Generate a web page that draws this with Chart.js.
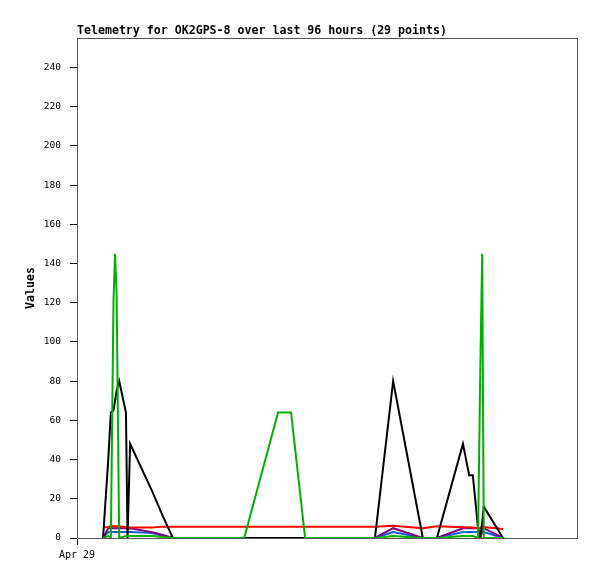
<!DOCTYPE html>
<html>
<head>
<meta charset="utf-8">
<script src="https://cdn.jsdelivr.net/npm/chart.js@4/dist/chart.umd.min.js"></script>
<style>
  body { margin: 0; background: #fff; }
  #wrap { width: 597px; height: 579px; }
</style>
</head>
<body>
<div id="wrap"><canvas id="telemetryChart" width="597" height="579"></canvas></div>
<script>
// Hours since Apr 29 00:00 for each of the 29 telemetry packets
const hours = [5.0, 6.0, 6.5, 7.0, 7.3, 7.6, 8.1, 9.4, 9.7, 10.2, 14.4, 16.5, 18.4,
  32.1, 38.6, 41.1, 43.8, 57.2, 60.7, 66.4, 69.1, 74.1, 75.3, 76.0, 77.0, 77.4, 77.8, 78.1, 81.8];

// Channel values
const redValues = [5.5, 5.6, 6, 6, 6, 6, 6, 5.5, 5.5, 5.3, 5.3, 5.8, 5.8,
  5.8, 5.8, 5.8, 5.8, 5.8, 6.2, 5, 6, 5.5, 5.5, 5.3, 5, 5, 6, 5.6, 4.6];
const greenValues = [0, 1, 0, 120, 145, 125, 0, 1, 1, 1, 1, 0.5, 0,
  0, 64, 64, 0, 0, 1, 0, 0, 1, 1, 1, 0, 80, 145, 0, 0];
const blackValues = [0, 40, 64, 65, 70, 75, 80, 64, 0, 48, 24, 11, 0,
  0, 0, 0, 0, 0, 80, 0, 0, 48, 32, 32, 5, 0, 8, 16, 0];
const blueValues = [0, 3, 3, 3, 3, 3, 3, 3, 3, 3, 2.5, 1, 0,
  0, 0, 0, 0, 0, 3, 0, 0, 3, 3, 3, 3, 0, 3, 3, 0];
const purpleValues = [0, 5, 5, 5, 5, 5, 5, 5, 4.5, 5, 3, 1.5, 0,
  0, 0, 0, 0, 0, 5, 0, 0, 5, 5, 5, 5, 0, 5, 5, 0];

const yTicks = [0, 20, 40, 60, 80, 100, 120, 140, 160, 180, 200, 220, 240];
const xTickLabel = 'Apr 29';

function toPoints(values) {
  return hours.map((h, i) => ({ x: h, y: values[i] }));
}

function makeSeries(values, color, order) {
  return {
    data: toPoints(values),
    borderColor: color,
    borderWidth: 2,
    pointRadius: 0,
    tension: 0,
    fill: false,
    order: order
  };
}

// Plot frame (top/right edges of the box)
const frame = {
  id: 'frame',
  beforeDatasetsDraw(chart) {
    const { ctx, chartArea } = chart;
    ctx.save();
    ctx.strokeStyle = '#555';
    ctx.lineWidth = 1;
    ctx.strokeRect(chartArea.left + 0.5, chartArea.top + 0.5,
      chartArea.right - chartArea.left, chartArea.bottom - chartArea.top);
    ctx.restore();
  }
};

const mono = 'DejaVu Sans Mono';

const ctx = document.getElementById('telemetryChart').getContext('2d');
new Chart(ctx, {
  type: 'line',
  data: {
    datasets: [
      makeSeries(blueValues, '#1060d0', 5),
      makeSeries(purpleValues, '#800080', 4),
      makeSeries(redValues, '#ff0000', 3),
      makeSeries(blackValues, '#000000', 2),
      makeSeries(greenValues, '#00b000', 1)
    ]
  },
  options: {
    responsive: false,
    animation: false,
    layout: { padding: { left: 0, right: 20, top: 0, bottom: 0 } },
    plugins: {
      legend: { display: false },
      tooltip: { enabled: false },
      title: {
        display: true,
        text: 'Telemetry for OK2GPS-8 over last 96 hours (29 points)',
        align: 'start',
        fullSize: false,
        color: '#000',
        font: { family: mono, size: 11.6, weight: 'bold' },
        padding: { top: 24, bottom: 0.08 }
      }
    },
    scales: {
      x: {
        type: 'linear',
        min: 0,
        max: 96,
        afterFit: s => { s.height = 41; },
        afterBuildTicks: s => { s.ticks = [{ value: 0 }]; },
        ticks: {
          color: '#000',
          font: { family: mono, size: 10 },
          padding: 4,
          maxRotation: 0,
          callback: v => (v === 0 ? xTickLabel : null)
        },
        grid: { drawOnChartArea: false, tickLength: 7, color: '#000' },
        border: { color: '#000', width: 1 }
      },
      y: {
        min: 0,
        max: 255,
        afterFit: s => { s.width = 77; },
        afterBuildTicks: s => { s.ticks = yTicks.map(v => ({ value: v })); },
        ticks: {
          color: '#000',
          font: { family: mono, size: 9.5 },
          padding: 9
        },
        grid: { drawOnChartArea: false, tickLength: 7, color: '#000' },
        border: { color: '#000', width: 1 },
        title: {
          display: true,
          text: 'Values',
          color: '#000',
          font: { family: mono, size: 11.6, weight: 'bold' },
          padding: { top: 24, bottom: 0 }
        }
      }
    }
  },
  plugins: [frame]
});
</script>
</body>
</html>
